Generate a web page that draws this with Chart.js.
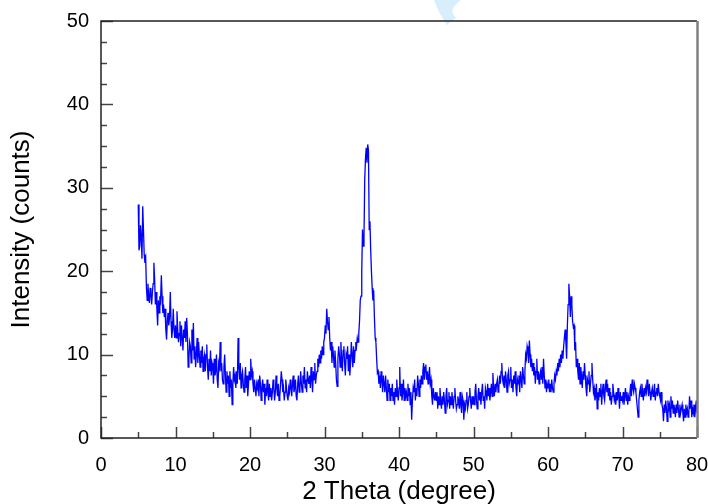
<!DOCTYPE html>
<html>
<head>
<meta charset="utf-8">
<script src="https://cdn.jsdelivr.net/npm/chart.js@4/dist/chart.umd.min.js"></script>
<style>
  body { margin: 0; background: #fff; }
  #wrap { width: 708px; height: 504px; }
</style>
</head>
<body>
<div id="wrap"><canvas id="xrdChart" width="708" height="504"></canvas></div>
<script>
// Scan grid (2 theta, degree)
const scanStart = 5.0;
const scanStep = 0.1;

// Intensity (counts), one row per degree: 5.0 .. 80.0
const intensity = [
  28.0, 22.5, 23.0, 25.5, 24.0, 21.5, 27.8, 25.0, 22.0, 21.0,  // 5
  21.5, 18.0, 16.5, 18.5, 17.0, 16.2, 18.0, 17.2, 16.0, 17.5,  // 6
  18.5, 21.0, 19.0, 16.0, 17.5, 15.5, 13.5, 16.5, 15.0, 17.0,  // 7
  16.5, 19.5, 17.0, 15.0, 16.0, 14.5, 15.5, 13.0, 11.8, 14.0,  // 8
  15.0, 13.5, 14.5, 17.5, 14.0, 12.0, 13.0, 15.5, 13.0, 12.0,  // 9
  13.5, 12.0, 15.2, 13.0, 11.5, 12.5, 14.0, 11.0, 13.5, 12.0,  // 10
  10.5, 13.0, 12.0, 14.0, 11.5, 14.4, 12.5, 8.5, 9.5, 11.5,    // 11
  11.0, 9.0, 13.0, 10.5, 13.8, 9.5, 11.0, 8.5, 10.0, 12.0,     // 12
  9.0, 11.5, 10.0, 8.5, 10.5, 9.0, 11.0, 8.0, 9.5, 10.0,       // 13
  8.0, 10.0, 11.2, 8.5, 7.0, 9.5, 8.0, 10.5, 7.5, 9.0,         // 14
  8.5, 6.5, 9.5, 7.5, 8.0, 10.0, 7.0, 6.0, 9.0, 8.5,           // 15
  11.5, 8.0, 9.0, 7.0, 6.5, 8.5, 10.0, 7.5, 5.5, 8.0,          // 16
  6.5, 7.5, 5.0, 8.0, 6.0, 7.0, 4.0, 6.5, 8.5, 7.0,            // 17
  7.5, 6.0, 8.0, 6.5, 12.0, 8.5, 7.0, 9.0, 6.0, 7.5,           // 18
  8.0, 6.5, 5.5, 7.0, 8.5, 6.0, 7.5, 5.0, 6.5, 8.0,            // 19
  7.0, 9.5, 7.5, 8.0, 6.5, 5.5, 7.0, 6.0, 5.0, 6.5,            // 20
  6.0, 7.0, 5.0, 7.5, 6.5, 4.5, 6.0, 7.0, 5.5, 6.5,            // 21
  4.0, 6.0, 5.0, 7.0, 5.5, 4.5, 6.5, 5.0, 6.0, 4.5,            // 22
  5.5, 7.0, 6.0, 4.5, 5.5, 7.5, 6.0, 5.0, 6.5, 4.5,            // 23
  5.0, 6.5, 8.0, 7.0, 5.5, 6.0, 4.5, 5.5, 7.0, 6.0,            // 24
  5.0, 4.5, 6.0, 5.5, 7.0, 6.0, 5.0, 6.5, 7.5, 5.5,            // 25
  6.0, 7.0, 5.0, 4.5, 6.5, 7.5, 5.5, 6.0, 8.0, 6.5,            // 26
  5.5, 7.5, 6.5, 8.5, 6.0, 7.0, 5.5, 8.0, 7.0, 6.5,            // 27
  7.5, 6.0, 8.5, 7.0, 5.5, 8.0, 7.0, 9.0, 6.5, 7.5,            // 28
  8.0, 9.5, 8.5, 10.0, 9.0, 10.5, 9.5, 11.0, 10.0, 11.5,       // 29
  12.0, 13.5, 12.5, 15.5, 14.0, 13.0, 14.5, 12.0, 10.5, 11.5,  // 30
  9.0, 11.0, 10.0, 8.5, 10.5, 9.0, 7.0, 6.2, 9.5, 11.0,        // 31
  10.0, 8.5, 11.5, 9.5, 8.0, 10.5, 11.0, 9.0, 7.5, 10.0,       // 32
  9.5, 11.0, 8.0, 10.0, 7.5, 9.0, 11.5, 10.0, 8.5, 11.0,       // 33
  9.0, 10.5, 11.5, 11.0, 12.0, 11.5, 12.5, 14.0, 16.5, 17.0,   // 34
  20.0, 25.0, 23.0, 24.0, 31.0, 33.5, 34.8, 33.0, 35.2, 34.5,  // 35
  25.0, 26.0, 22.5, 20.0, 18.0, 16.5, 17.7, 14.5, 12.0, 11.5,  // 36
  9.5, 7.8, 8.0, 6.5, 7.5, 6.0, 8.0, 7.0, 5.5, 7.5,            // 37
  6.5, 5.5, 7.5, 6.0, 4.5, 7.0, 5.5, 6.5, 4.5, 6.0,            // 38
  5.0, 6.5, 4.5, 5.5, 4.0, 6.0, 5.0, 7.0, 5.5, 4.5,            // 39
  6.0, 8.5, 5.0, 6.5, 4.5, 5.5, 7.0, 4.5, 6.0, 5.0,            // 40
  5.5, 4.5, 6.5, 5.0, 6.0, 4.0, 5.5, 2.2, 4.5, 6.0,            // 41
  5.5, 7.0, 4.5, 6.0, 5.0, 7.5, 6.5, 5.0, 7.0, 6.0,            // 42
  7.5, 6.5, 8.0, 9.0, 7.0, 8.5, 8.8, 7.0, 8.0, 6.5,            // 43
  7.5, 8.5, 6.5, 7.0, 5.0, 4.0, 6.0, 5.0, 4.5, 5.5,            // 44
  4.5, 5.5, 3.5, 5.0, 4.0, 6.0, 4.5, 3.5, 5.0, 4.0,            // 45
  5.5, 4.5, 3.0, 5.0, 6.0, 4.0, 4.5, 5.5, 3.5, 5.0,            // 46
  4.0, 5.5, 4.5, 3.5, 5.0, 6.0, 4.5, 3.5, 4.0, 5.0,            // 47
  4.5, 3.5, 5.5, 4.0, 3.0, 5.0, 4.5, 2.2, 4.0, 3.5,            // 48
  4.5, 5.5, 3.5, 4.0, 5.0, 6.0, 4.5, 3.5, 5.0, 4.0,            // 49
  5.0, 4.0, 5.5, 6.5, 4.5, 3.5, 5.0, 6.0, 4.5, 5.5,            // 50
  4.0, 5.5, 6.5, 4.5, 5.0, 3.5, 6.0, 5.5, 4.5, 6.5,            // 51
  5.0, 6.0, 4.5, 5.5, 6.5, 5.0, 7.8, 6.0, 5.0, 6.5,            // 52
  5.5, 6.5, 7.0, 5.5, 6.0, 7.5, 6.5, 8.0, 9.0, 7.0,            // 53
  6.5, 7.5, 6.0, 8.0, 7.0, 5.5, 7.5, 8.0, 6.5, 7.0,            // 54
  8.5, 6.0, 7.0, 5.5, 7.5, 6.5, 8.0, 6.0, 5.0, 7.0,            // 55
  6.5, 7.5, 5.5, 8.0, 7.0, 6.0, 8.5, 7.5, 6.5, 8.0,            // 56
  10.0, 9.5, 11.0, 10.5, 9.0, 11.7, 10.0, 8.5, 9.5, 8.0,       // 57
  9.0, 7.5, 8.5, 6.5, 8.0, 9.5, 7.0, 8.0, 6.5, 7.5,            // 58
  8.0, 7.0, 8.5, 6.5, 9.5, 7.5, 6.0, 7.0, 5.5, 6.5,            // 59
  6.0, 7.0, 5.5, 6.5, 5.5, 7.0, 6.0, 5.5, 6.5, 7.5,            // 60
  7.0, 8.0, 7.5, 9.0, 8.0, 9.5, 8.5, 10.0, 9.0, 10.5,          // 61
  9.5, 11.0, 12.0, 13.0, 11.5, 9.5, 13.5, 16.0, 18.5, 17.0,    // 62
  14.5, 17.0, 16.0, 14.0, 13.3, 13.5, 10.5, 11.5, 8.5, 9.5,    // 63
  8.0, 7.0, 9.0, 6.5, 8.5, 7.5, 6.0, 8.0, 7.0, 9.0,            // 64
  7.5, 6.0, 5.0, 7.0, 6.5, 8.0, 5.5, 6.5, 7.5, 9.0,            // 65
  7.0, 5.5, 6.0, 4.5, 5.0, 6.5, 3.5, 5.5, 4.5, 6.0,            // 66
  5.0, 6.5, 4.0, 5.5, 6.5, 5.0, 4.5, 6.0, 7.0, 5.5,            // 67
  6.5, 5.0, 6.0, 4.5, 5.5, 4.0, 5.0, 6.5, 5.5, 4.5,            // 68
  5.0, 4.0, 5.5, 4.5, 6.0, 5.0, 3.5, 5.5, 4.5, 5.0,            // 69
  4.5, 5.5, 4.0, 5.0, 6.0, 4.5, 5.5, 4.0, 5.0, 4.5,            // 70
  5.5, 6.5, 5.0, 7.0, 6.0, 5.5, 6.5, 6.0, 5.5, 4.5,            // 71
  3.5, 2.5, 4.5, 5.5, 6.0, 5.0, 6.5, 5.5, 4.5, 6.0,            // 72
  5.0, 6.0, 5.5, 7.0, 6.0, 5.0, 6.5, 5.5, 4.5, 5.5,            // 73
  6.0, 5.0, 5.5, 6.5, 4.5, 5.5, 6.0, 5.0, 6.5, 5.5,            // 74
  5.0, 4.5, 5.5, 4.0, 3.5, 2.0, 4.0, 3.0, 4.5, 3.5,            // 75
  2.0, 4.5, 3.5, 4.0, 2.5, 5.0, 3.5, 4.5, 3.0, 4.0,            // 76
  3.5, 2.5, 4.0, 3.0, 4.5, 3.5, 2.5, 4.0, 3.0, 3.5,            // 77
  4.0, 3.0, 2.0, 3.5, 2.5, 4.0, 3.0, 3.5, 2.5, 3.0,            // 78
  5.0, 3.5, 4.5, 2.5, 3.5, 3.0, 4.0, 2.5, 3.5, 4.5,            // 79
  3.0                                                          // 80
];

// Axis ticks
const xTicks = [0, 10, 20, 30, 40, 50, 60, 70, 80];
const yTicks = [0, 10, 20, 30, 40, 50];
const xMinorTicks = [5, 15, 25, 35, 45, 55, 65, 75];
const yMinorTicks = [2.5, 5, 7.5, 12.5, 15, 17.5, 22.5, 25, 27.5, 32.5, 35, 37.5, 42.5, 45, 47.5];

const points = intensity.map((v, i) => ({ x: +(scanStart + i * scanStep).toFixed(1), y: v }));

const FONT = '"Liberation Sans", Arial, sans-serif';

// faint blue watermark fragment at the top edge of the source image
const watermarkPlugin = {
  id: 'watermark',
  beforeDraw(chart) {
    const c = chart.ctx;
    c.save();
    c.fillStyle = '#d8eefc';
    c.beginPath();
    c.moveTo(434, 0);
    c.lineTo(461, 0);
    c.quadraticCurveTo(450, 8, 453, 14);
    c.lineTo(456, 18);
    c.quadraticCurveTo(450, 22, 447, 25);
    c.quadraticCurveTo(438, 12, 434, 0);
    c.fill();
    c.restore();
  }
};

// Frame + inward ticks, drawn through the chart scales
const framePlugin = {
  id: 'frame',
  afterDraw(chart) {
    const { ctx, chartArea: a, scales: { x, y } } = chart;
    ctx.save();
    ctx.lineCap = 'butt';

    // ticks
    ctx.strokeStyle = '#444';
    ctx.lineWidth = 1.5;
    const tickX = (vals, len) => vals.forEach(v => {
      const px = Math.round(x.getPixelForValue(v)) + 0.5;
      ctx.beginPath(); ctx.moveTo(px, a.bottom); ctx.lineTo(px, a.bottom - len); ctx.stroke();
    });
    const tickY = (vals, len) => vals.forEach(v => {
      const py = Math.round(y.getPixelForValue(v)) + 0.5;
      ctx.beginPath(); ctx.moveTo(a.left, py); ctx.lineTo(a.left + len, py); ctx.stroke();
    });
    tickX(xTicks, 11);
    tickX(xMinorTicks, 6);
    tickY(yTicks, 12);
    tickY(yMinorTicks, 6);

    // top + left + bottom
    ctx.strokeStyle = '#222';
    ctx.lineWidth = 1.5;
    ctx.beginPath();
    ctx.moveTo(a.right, a.top);
    ctx.lineTo(a.left, a.top);
    ctx.lineTo(a.left, a.bottom);
    ctx.lineTo(a.right, a.bottom);
    ctx.stroke();

    // right edge, grey
    ctx.strokeStyle = '#808080';
    ctx.lineWidth = 2.5;
    ctx.beginPath();
    ctx.moveTo(a.right + 0.5, a.top);
    ctx.lineTo(a.right + 0.5, a.bottom);
    ctx.stroke();
    ctx.restore();
  }
};

const ctx = document.getElementById('xrdChart').getContext('2d');
const xrdChart = new Chart(ctx, {
  type: 'line',
  data: {
    datasets: [{
      label: 'XRD',
      data: points,
      borderColor: '#0000ff',
      borderWidth: 1.3,
      pointRadius: 0,
      fill: false,
      tension: 0
    }]
  },
  options: {
    responsive: false,
    animation: false,
    layout: { autoPadding: false, padding: { top: 21, right: 11, left: 0, bottom: 0 } },
    plugins: { legend: { display: false }, tooltip: { enabled: false } },
    scales: {
      x: {
        type: 'linear',
        min: 0,
        max: 80,
        afterBuildTicks: s => { s.ticks = xTicks.map(v => ({ value: v })); },
        afterFit: s => { s.height = 66; s.paddingLeft = 0; s.paddingRight = 0; },
        grid: { display: false, drawTicks: false },
        border: { display: false },
        ticks: { color: '#000', font: { family: FONT, size: 20 }, padding: 15, maxRotation: 0 },
        title: { display: true, text: '2 Theta (degree)', color: '#000', font: { family: FONT, size: 26 }, padding: { top: 0, bottom: -3 } }
      },
      y: {
        min: 0,
        max: 50,
        afterBuildTicks: s => { s.ticks = yTicks.map(v => ({ value: v })); },
        afterFit: s => { s.width = 101; s.paddingTop = 0; s.paddingBottom = 0; },
        grid: { display: false, drawTicks: false },
        border: { display: false },
        ticks: { color: '#000', font: { family: FONT, size: 20 }, padding: 12 },
        title: { display: true, text: 'Intensity (counts)', color: '#000', font: { family: FONT, size: 26 }, padding: { top: 6, bottom: 0 } }
      }
    }
  },
  plugins: [watermarkPlugin, framePlugin]
});
</script>
</body>
</html>
